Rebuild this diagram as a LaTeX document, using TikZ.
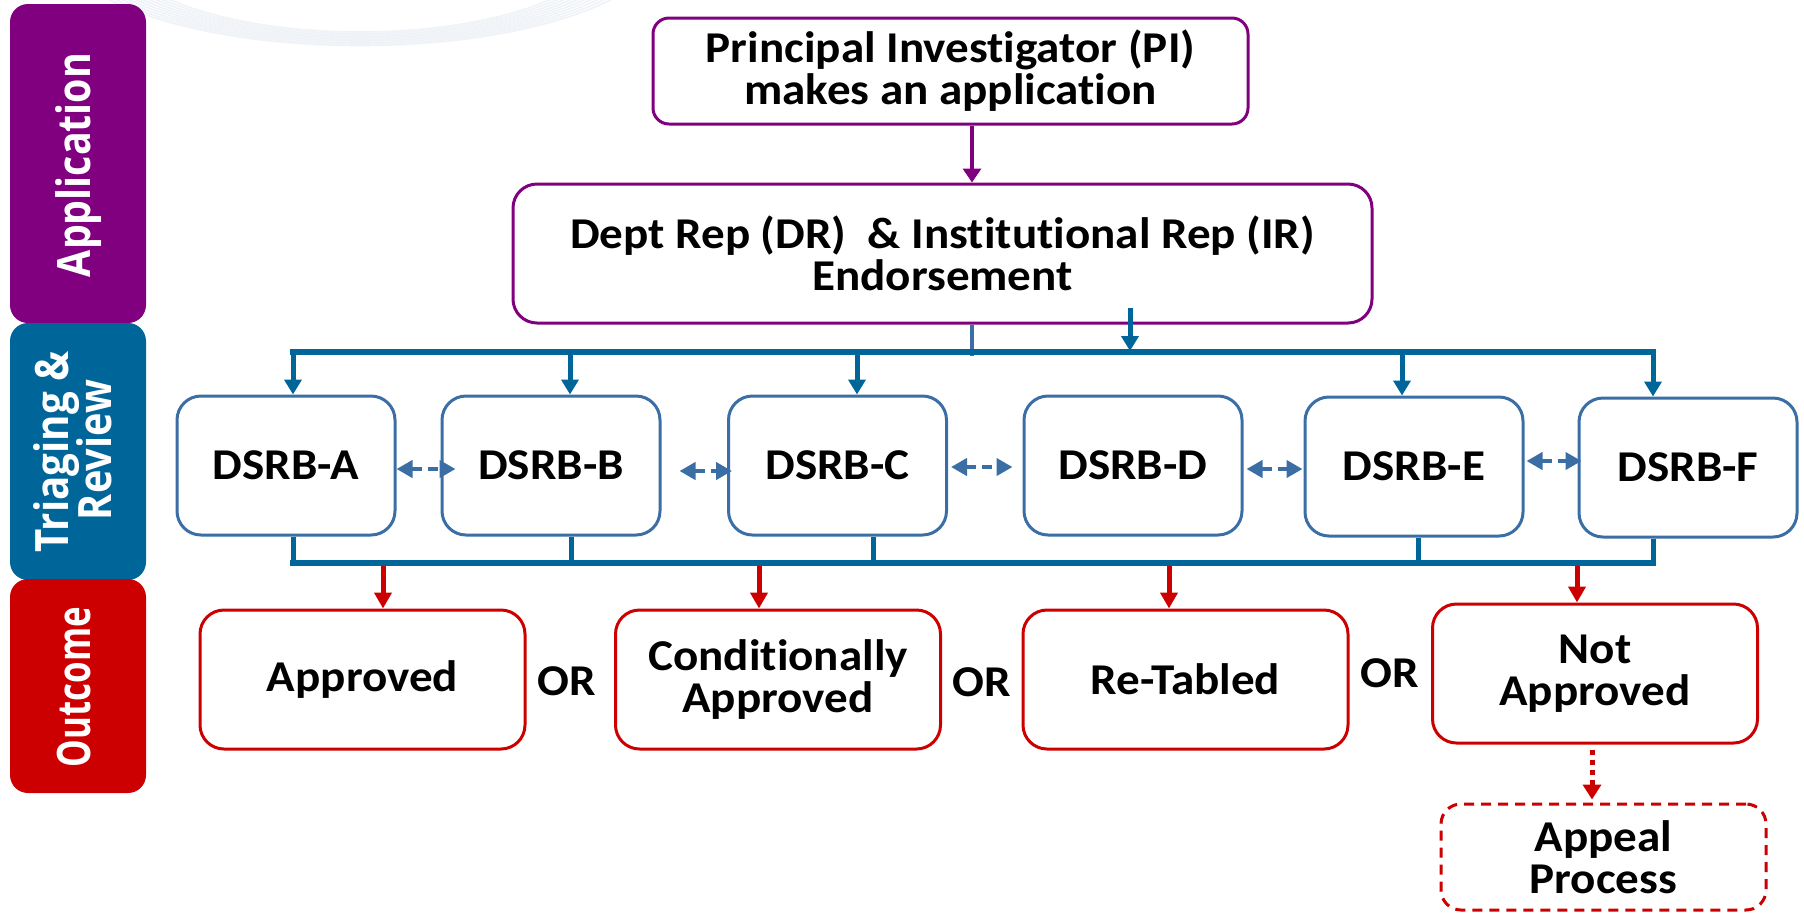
\documentclass[tikz,border=0pt]{standalone}
\usepackage{fontspec}
\setmainfont{Carlito}[FakeStretch=1.07,Ligatures=NoCommon]
\newfontfamily\sidefont{Open Sans}
\usetikzlibrary{arrows.meta,calc}
\definecolor{pur}{RGB}{128,0,128}
\definecolor{tblue}{RGB}{0,102,153}
\definecolor{lblue}{RGB}{58,110,165}
\definecolor{ored}{RGB}{204,0,0}
\definecolor{swirlc}{RGB}{239,242,247}
\tikzset{
  basebox/.style={rounded corners=12pt, line width=1.5pt, fill=white, inner sep=0pt, align=center,
    font=\fontsize{22}{21}\selectfont\bfseries},
  purbox/.style={basebox, draw=pur},
  dbox/.style={basebox, draw=lblue, minimum width=109pt, minimum height=69.5pt},
  obox/.style={basebox, draw=ored, minimum width=162.5pt, minimum height=69.5pt},
  apbox/.style={basebox, draw=ored, dash pattern=on 5pt off 3.5pt, rounded corners=10pt,
    minimum width=162.5pt, minimum height=53pt},
  sidebox/.style={rounded corners=9pt, minimum width=68pt, inner sep=0pt},
  sidetext/.style={rotate=90, anchor=base, text=white, inner sep=0pt,
    font=\sidefont\fontsize{23}{21.5}\selectfont\bfseries},
  ortext/.style={inner sep=0pt, font=\fontsize{22}{21}\selectfont\bfseries},
  bus/.style={draw=tblue, line width=3pt, line cap=rect},
  drop/.style={draw=tblue, line width=2.5pt},
  busarrow/.style={draw=tblue, line width=2.5pt, -{Triangle[width=8.5pt,length=7.5pt]}},
  purarrow/.style={draw=pur, line width=2.2pt, -{Triangle[width=9pt,length=7pt]}},
  redarrow/.style={draw=ored, line width=2.5pt, -{Triangle[width=8.5pt,length=8pt]}},
  dotarrow/.style={draw=ored, line width=2.5pt, dash pattern=on 2.5pt off 2.5pt, -{Triangle[width=9pt,length=7.5pt]}},
  darrow/.style={draw=lblue, line width=2pt, dash pattern=on 5pt off 3pt,
    {Triangle[width=8.5pt,length=8pt]}-{Triangle[width=8.5pt,length=8pt]}},
  swirl/.style={draw=swirlc, line width=0.8pt}
}
\begin{document}
\begin{tikzpicture}[x=0.5pt,y=-0.5pt]
\useasboundingbox (0,0) rectangle (1804,912);

% faint background swirl
\foreach \i in {0,...,9}
  \draw[swirl] (360,-60) ellipse ({250+6*\i} and {92+1.5*\i});

% side bars
\node[sidebox, fill=pur,   minimum height=159.5pt] (sApp) at (78,163.5) {};
\node[sidebox, fill=tblue, minimum height=128.5pt] (sTri) at (78,451.5) {};
\node[sidebox, fill=ored,  minimum height=107pt]   (sOut) at (78,686) {};
\node[sidetext] (tApp) at (90,165) {\resizebox{112pt}{\height}{Application}};
\node[sidetext] (tTri1) at (68,452) {\resizebox{100.5pt}{\height}{Triaging \&}};
\node[sidetext] (tTri2) at (111,450) {\resizebox{70pt}{\height}{Review}};
\node[sidetext] (tOut) at (90,687) {\resizebox{80pt}{\height}{Outcome}};

% top boxes
\node[purbox, rounded corners=8pt, minimum width=297.5pt, minimum height=53pt] (pi) at (950.5,71)
  {Principal Investigator (PI)\\makes an application};
\node[purbox, minimum width=429.5pt, minimum height=69.5pt] (dept) at (942.5,253.5)
  {Dept Rep (DR)\ \ \& Institutional Rep (IR)\\Endorsement};

% DSRB boxes
\node[dbox] (dA) at (286,465.5) {DSRB-A};
\node[dbox] (dB) at (551,465.5) {DSRB-B};
\node[dbox] (dC) at (837.5,465.5) {DSRB-C};
\node[dbox] (dD) at (1133,465.5) {DSRB-D};
\node[dbox] (dE) at (1414,466.5) {DSRB-E};
\node[dbox] (dF) at (1688,467.5) {DSRB-F};

% outcome boxes
\node[obox] (oA) at (362.5,679.5) {Approved};
\node[obox] (oC) at (778,679.5) {Conditionally\\Approved};
\node[obox] (oR) at (1185.5,679.5) {Re-Tabled};
\node[obox] (oN) at (1595,673.5) {Not\\Approved};
\node[apbox] (ap) at (1603.5,857) {Appeal\\Process};

\node[ortext] (or1) at (567,681) {OR};
\node[ortext] (or2) at (982,682) {OR};
\node[ortext] (or3) at (1390,673) {OR};

% coordinates on the buses
\coordinate (pa) at (972,0);
\coordinate (da) at (1130,308);
\coordinate (tA) at (293,352);
\coordinate (tB) at (570,352);
\coordinate (tC) at (857,352);
\coordinate (tE) at (1402,352);
\coordinate (tF) at (1653,352);
\coordinate (uA) at (293,563);
\coordinate (uB) at (571,563);
\coordinate (uC) at (873,563);
\coordinate (uE) at (1418,563);
\coordinate (uF) at (1653,563);
\coordinate (rA) at (383,563);
\coordinate (rC) at (759,563);
\coordinate (rR) at (1169,563);
\coordinate (rN) at (1577,563);

% PI -> Dept
\draw[purarrow] (pi.south -| pa) -- (dept.north -| pa);
% Dept -> bus
\draw[lblue, line width=2pt] (dept.south -| pa) -- ($(tA -| pa)+(0,4)$);
\draw[busarrow] (da) -- ($(da |- tA)+(0,-1)$);

% top bus and drops
\draw[busarrow] (tA) -- (tA |- dA.north);
\draw[busarrow] (tB) -- (tB |- dB.north);
\draw[busarrow] (tC) -- (tC |- dC.north);
\draw[busarrow] (tE) -- (tE |- dE.north);
\draw[busarrow] (tF) -- (tF |- dF.north);
\draw[bus] (tA) -- (tF);

% dashed links between DSRBs
\path ([yshift=-1.75pt]dA.east) coordinate (ab);
\draw[darrow] (ab) -- ($(ab -| dB.west)+(15,0)$);
\path ($(dB.east)+(18,5.5)$) coordinate (bc);
\draw[darrow] (bc) -- ($(bc -| dC.west)+(5,0)$);
\path ($(dC.east)+(3,1.5)$) coordinate (cd);
\draw[darrow] (cd) -- ($(cd -| dD.west)+(-10,0)$);
\path ($(dD.east)+(3,3.5)$) coordinate (de);
\draw[darrow] (de) -- ($(de -| dE.west)+(-1,0)$);
\path ($(dE.east)+(2,-5.5)$) coordinate (ef);
\draw[darrow] (ef) -- ($(ef -| dF.west)+(4,0)$);

% red arrows to outcomes
\draw[redarrow] (rA) -- (rA |- oA.north);
\draw[redarrow] (rC) -- (rC |- oC.north);
\draw[redarrow] (rR) -- (rR |- oR.north);
\draw[redarrow] (rN) -- (rN |- oN.north);

% bottom bus and drops
\draw[drop] (dA.south -| uA) -- (uA);
\draw[drop] (dB.south -| uB) -- (uB);
\draw[drop] (dC.south -| uC) -- (uC);
\draw[drop] (dE.south -| uE) -- (uE);
\draw[drop] (dF.south -| uF) -- (uF);
\draw[bus] (uA) -- (uF);

% not approved -> appeal
\draw[dotarrow] ($(oN.south)+(-3,5)$) -- ($(ap.north)+(-11.5,-3)$);
\end{tikzpicture}
\end{document}
